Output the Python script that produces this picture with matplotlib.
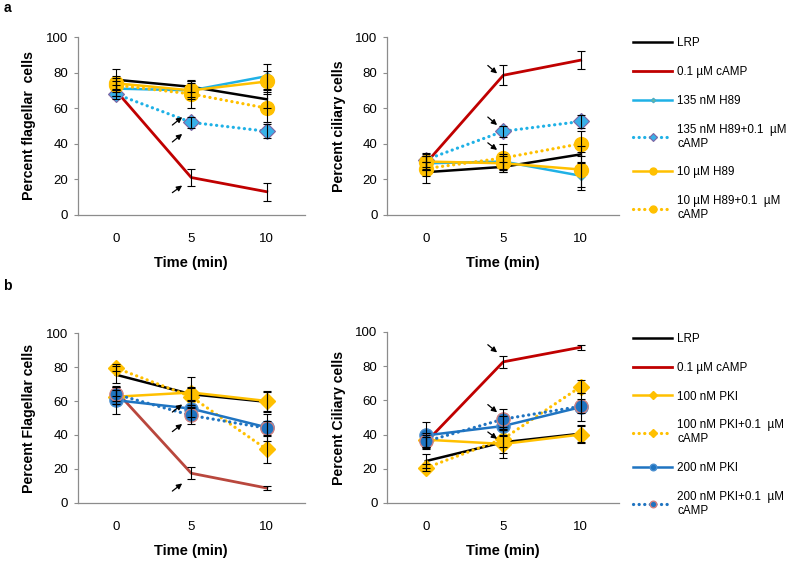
import matplotlib
matplotlib.use("Agg")
import matplotlib.pyplot as plt

plt.rcParams['font.family'] = ['Liberation Sans', 'DejaVu Sans']

time = [0, 5, 10]

# panel a, flagellar
a_flag_lrp = [76, 72, 65]
a_flag_lrp_err = [6, 3, 5]
a_flag_camp = [70, 21, 13]
a_flag_camp_err = [3, 5, 5]
a_flag_h89_135 = [71, 70, 78]
a_flag_h89_135_err = [4, 4, 7]
a_flag_h89_135_camp = [68, 52, 47]
a_flag_h89_135_camp_err = [3, 3, 4]
a_flag_h89_10 = [74, 70, 75]
a_flag_h89_10_err = [4, 5, 6]
a_flag_h89_10_camp = [73, 68, 60]
a_flag_h89_10_camp_err = [4, 8, 8]

# panel a, ciliary
a_cil_lrp = [24, 27, 34]
a_cil_lrp_err = [6, 3, 5]
a_cil_camp = [29, 78.5, 87]
a_cil_camp_err = [4, 5.5, 5]
a_cil_h89_135 = [29, 30, 22]
a_cil_h89_135_err = [4, 4, 8]
a_cil_h89_135_camp = [31, 47, 52.5]
a_cil_h89_135_camp_err = [4, 3, 3.5]
a_cil_h89_10 = [30, 29, 25.5]
a_cil_h89_10_err = [4, 4, 10]
a_cil_h89_10_camp = [26, 32, 40]
a_cil_h89_10_camp_err = [4, 8, 7]

# panel b, flagellar
b_flag_lrp = [75.5, 64, 59.5]
b_flag_lrp_err = [5, 4, 6]
b_flag_camp = [66, 17.5, 8.8]
b_flag_camp_err = [3, 3.5, 1.3]
b_flag_pki_100 = [62.5, 65, 60]
b_flag_pki_100_err = [4, 9, 6]
b_flag_pki_100_camp = [79.5, 62.5, 31.5]
b_flag_pki_100_camp_err = [2, 5, 8]
b_flag_pki_200 = [60.5, 55.5, 44.5]
b_flag_pki_200_err = [8, 5, 8]
b_flag_pki_200_camp = [64, 51.5, 44]
b_flag_pki_200_camp_err = [4, 5, 4]

# panel b, ciliary
b_cil_lrp = [24.5, 35.5, 40.5]
b_cil_lrp_err = [4, 9, 5]
b_cil_camp = [35.5, 82.5, 91]
b_cil_camp_err = [3, 3.5, 1.3]
b_cil_pki_100 = [37, 34.5, 40]
b_cil_pki_100_err = [4, 5, 5]
b_cil_pki_100_camp = [20.5, 37.5, 68]
b_cil_pki_100_camp_err = [2, 5, 4]
b_cil_pki_200 = [39.5, 45, 56]
b_cil_pki_200_err = [8, 6, 8]
b_cil_pki_200_camp = [36, 49, 56.5]
b_cil_pki_200_camp_err = [4, 6, 4]

labels_a = ["LRP", "0.1 µM cAMP", "135 nM H89", "135 nM H89+0.1  µM\ncAMP",
            "10 µM H89", "10 µM H89+0.1  µM\ncAMP"]
labels_b = ["LRP", "0.1 µM cAMP", "100 nM PKI", "100 nM PKI+0.1  µM\ncAMP",
            "200 nM PKI", "200 nM PKI+0.1  µM\ncAMP"]

dots = (0, (0.05, 1.7))
cyan = '#1fb1e6'
gold = '#ffc000'
blue = '#1f74c1'
red = '#c00000'

style_a = [
    dict(color='black', lw=1.8),
    dict(color=red, lw=2.0),
    dict(color=cyan, lw=1.8, marker='D', ms=4.5, mfc='#6fbf8f', mec='#4bacc6'),
    dict(color=cyan, lw=2.3, ls=dots, dash_capstyle='round', marker='D', ms=8.5,
         mfc='#38b0e8', mec='#8064a2', mew=0.8),
    dict(color=gold, lw=1.8, marker='o', ms=10, mfc=gold, mec=gold),
    dict(color=gold, lw=2.3, ls=dots, dash_capstyle='round', marker='o', ms=10,
         mfc=gold, mec=gold),
]
style_b = [
    dict(color='black', lw=1.8),
    dict(color=red, lw=2.0),
    dict(color=gold, lw=1.8, marker='D', ms=8.5, mfc=gold, mec=gold),
    dict(color=gold, lw=2.3, ls=dots, dash_capstyle='round', marker='D', ms=8.5,
         mfc=gold, mec=gold),
    dict(color=blue, lw=1.8, marker='o', ms=9.5, mfc=blue, mec='#4b8fd0'),
    dict(color=blue, lw=2.3, ls=dots, dash_capstyle='round', marker='o', ms=9.5,
         mfc=blue, mec='#d08080', mew=1.0),
]

panels = [
    ([0.099, 0.617, 0.288, 0.317], "Percent flagellar  cells",
     [a_flag_lrp, a_flag_camp, a_flag_h89_135, a_flag_h89_135_camp, a_flag_h89_10, a_flag_h89_10_camp],
     [a_flag_lrp_err, a_flag_camp_err, a_flag_h89_135_err, a_flag_h89_135_camp_err, a_flag_h89_10_err, a_flag_h89_10_camp_err],
     style_a, None),
    ([0.492, 0.617, 0.295, 0.317], "Percent ciliary cells",
     [a_cil_lrp, a_cil_camp, a_cil_h89_135, a_cil_h89_135_camp, a_cil_h89_10, a_cil_h89_10_camp],
     [a_cil_lrp_err, a_cil_camp_err, a_cil_h89_135_err, a_cil_h89_135_camp_err, a_cil_h89_10_err, a_cil_h89_10_camp_err],
     style_a, None),
    ([0.099, 0.1034, 0.288, 0.303], "Percent Flagellar cells",
     [b_flag_lrp, b_flag_camp, b_flag_pki_100, b_flag_pki_100_camp, b_flag_pki_200, b_flag_pki_200_camp],
     [b_flag_lrp_err, b_flag_camp_err, b_flag_pki_100_err, b_flag_pki_100_camp_err, b_flag_pki_200_err, b_flag_pki_200_camp_err],
     style_b, '#b9473d'),
    ([0.492, 0.1034, 0.295, 0.305], "Percent Ciliary cells",
     [b_cil_lrp, b_cil_camp, b_cil_pki_100, b_cil_pki_100_camp, b_cil_pki_200, b_cil_pki_200_camp],
     [b_cil_lrp_err, b_cil_camp_err, b_cil_pki_100_err, b_cil_pki_100_camp_err, b_cil_pki_200_err, b_cil_pki_200_camp_err],
     style_b, None),
]

# arrow tails/heads (x, y) in data units: up-right on flagellar, down-right on ciliary
arrows = [
    [((3.75, 50.5), (4.4, 55)), ((3.75, 41), (4.4, 45.5)), ((3.75, 12.5), (4.4, 16.5))],
    [((4.0, 84), (4.6, 79.5)), ((4.0, 55), (4.6, 50.5)), ((4.0, 40.5), (4.6, 36.5))],
    [((3.75, 53.5), (4.4, 58)), ((3.75, 42), (4.4, 46.5)), ((3.75, 7), (4.4, 11.5))],
    [((4.0, 92.5), (4.6, 88)), ((4.0, 57.5), (4.6, 53)), ((4.0, 41.5), (4.6, 37.5))],
]

fig = plt.figure(figsize=(7.87, 5.61), dpi=100)
handles = {}
for i, (rect, ylabel, series, errs, styles, red_override) in enumerate(panels):
    ax = fig.add_axes(rect)
    hs = []
    for j, (y, e, st) in enumerate(zip(series, errs, styles)):
        st = dict(st)
        if j == 1 and red_override:
            st['color'] = red_override
        ax.errorbar(time, y, yerr=e, fmt='none', ecolor='black', elinewidth=0.8,
                    capsize=3, capthick=0.8, zorder=3)
        ln, = ax.plot(time, y, zorder=2, **st)
        hs.append(ln)
    if i in (1, 3):
        handles[i] = hs
    for tail, head in arrows[i]:
        ax.annotate('', xy=head, xytext=tail,
                    arrowprops=dict(arrowstyle='-|>', color='black', lw=0.9,
                                    mutation_scale=8, shrinkA=0, shrinkB=0))
    ax.set_xlim(-2.5, 12.5)
    ax.set_ylim(0, 100)
    ax.set_yticks([0, 20, 40, 60, 80, 100])
    ax.set_xticks(time)
    for s in ['top', 'right']:
        ax.spines[s].set_visible(False)
    for s in ['left', 'bottom']:
        ax.spines[s].set_color('#8c8c8c')
        ax.spines[s].set_linewidth(0.9)
    ax.tick_params(axis='y', length=3, color='#8c8c8c', labelsize=9.5, pad=4)
    ax.tick_params(axis='x', length=0, labelsize=9.5, pad=13)
    ax.set_ylabel(ylabel, fontsize=10.2, fontweight='bold', labelpad=7)
    ax.set_xlabel("Time (min)", fontsize=10.5, fontweight='bold', labelpad=8)

legend_kw = dict(loc='upper left', frameon=False, fontsize=8.4, handlelength=3.4,
                 handletextpad=0.4, labelspacing=1.45, markerscale=0.5, numpoints=1,
                 borderpad=0, borderaxespad=0)
fig.legend(handles[1], labels_a, bbox_to_anchor=(0.804, 0.934), **legend_kw)
fig.legend(handles[3], labels_b, bbox_to_anchor=(0.804, 0.407), **legend_kw)

fig.text(0.004, 0.998, 'a', fontsize=10, fontweight='bold', va='top')
fig.text(0.004, 0.502, 'b', fontsize=10, fontweight='bold', va='top')

fig.savefig('out.png', dpi=100)
